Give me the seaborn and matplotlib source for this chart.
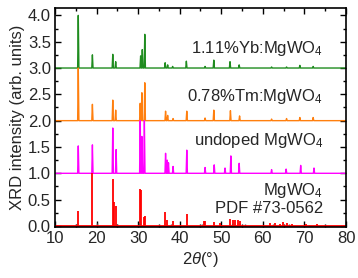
import numpy as np
import pandas as pd
import matplotlib
matplotlib.use("Agg")
import matplotlib.pyplot as plt
from matplotlib.ticker import MultipleLocator
import seaborn as sns

# ---- data ----
yb_pos = [15.6, 19.0, 23.9, 24.6, 30.6, 31.0, 31.6, 36.5, 37.1, 38.3, 41.6, 46.1, 48.2, 52.1, 54.3, 62.1, 65.7, 68.9, 72.1]
yb_h   = [1.00, 0.25, 0.26, 0.12, 0.23, 0.35, 0.64, 0.10, 0.06, 0.03, 0.13, 0.03, 0.15, 0.12, 0.06, 0.02, 0.02, 0.05, 0.03]

tm_pos = [15.6, 19.0, 23.9, 24.6, 30.5, 30.9, 31.6, 36.6, 37.1, 38.4, 41.7, 46.1, 48.2, 52.2, 54.4, 62.1, 65.7, 68.9, 72.1]
tm_h   = [1.00, 0.31, 0.39, 0.20, 0.33, 0.53, 0.72, 0.18, 0.10, 0.04, 0.18, 0.05, 0.20, 0.19, 0.09, 0.03, 0.04, 0.06, 0.06]

un_pos = [15.6, 19.0, 23.9, 24.7, 30.5, 30.9, 31.5, 36.6, 37.0, 37.3, 38.4, 41.7, 46.1, 48.3, 50.9, 52.3, 54.3, 62.1, 65.6, 69.1, 72.3]
un_h   = [0.52, 0.54, 0.86, 0.45, 1.00, 0.70, 1.00, 0.38, 0.25, 0.20, 0.13, 0.44, 0.11, 0.16, 0.10, 0.33, 0.19, 0.07, 0.08, 0.15, 0.10]

pdf_pos = [15.6, 19.0, 23.9, 24.1, 24.6, 30.5, 30.8, 31.3, 31.6, 36.5, 37.0, 38.3, 41.7, 45.9, 46.1, 48.3, 49.6,
           52.1, 52.9, 53.4, 54.0, 54.4, 61.6, 62.9, 64.1, 64.9, 65.9, 67.0, 70.3, 73.0]
pdf_h   = [0.28, 1.00, 0.89, 0.45, 0.37, 0.71, 0.69, 0.17, 0.18, 0.26, 0.12, 0.10, 0.22, 0.10, 0.09, 0.08, 0.06,
           0.14, 0.12, 0.11, 0.12, 0.10, 0.06, 0.05, 0.04, 0.07, 0.06, 0.03, 0.04, 0.03]

gray_pos = [15.0, 20.1, 25.0, 30.2, 38.0, 45.4, 52.6, 55.6, 62.5, 66.4, 71.0]
gray_h   = [0.04, 0.05, 0.04, 0.05, 0.03, 0.03, 0.03, 0.03, 0.03, 0.03, 0.02]

offsets = [3.0, 2.0, 1.0]
labels = ["1.11%Yb:MgWO$_4$", "0.78%Tm:MgWO$_4$", "undoped MgWO$_4$"]
colors = ["#1f8c1f", "#ff7f0e", "#ff00ff"]
pdf_color = "#ff0000"

# ---- build traces ----
def trace(pos, h, off, hw=0.15):
    xs, ys = [10.0], [off]
    for p, v in sorted(zip(pos, h)):
        xs += [p - hw, p, p + hw]
        ys += [off, off + v, off]
    xs.append(80.0); ys.append(off)
    return xs, ys

rows = []
for name, pos, h, off in zip(labels, [yb_pos, tm_pos, un_pos], [yb_h, tm_h, un_h], offsets):
    xs, ys = trace(pos, h, off)
    for i, (a, b) in enumerate(zip(xs, ys)):
        rows.append({"x": a, "y": b, "s": name, "i": i})
df = pd.DataFrame(rows)

sns.set_style("ticks")
plt.rcParams["font.family"] = ["Liberation Sans", "DejaVu Sans"]
plt.rcParams["mathtext.fontset"] = "custom"
plt.rcParams["mathtext.rm"] = "Liberation Sans"
plt.rcParams["mathtext.it"] = "Liberation Sans:italic"

FS = 12
fig = plt.figure(figsize=(3.58, 2.78), dpi=100)
ax = fig.add_axes([0.1536, 0.1835, 0.8129, 0.7877])

sns.lineplot(data=df, x="x", y="y", hue="s", palette=dict(zip(labels, colors)),
             sort=False, estimator=None, units="s", lw=1.0, legend=False, ax=ax)

ax.vlines(pdf_pos, 0, pdf_h, color=pdf_color, lw=1.3)
ax.vlines(gray_pos, 0, gray_h, color="#555555", lw=1.0)
ax.plot([10, 80], [0, 0], color=pdf_color, lw=1.3)

ax.set_xlim(10, 80)
ax.set_ylim(-0.02, 4.14)
ax.xaxis.set_major_locator(MultipleLocator(10))
ax.xaxis.set_minor_locator(MultipleLocator(5))
ax.yaxis.set_major_locator(MultipleLocator(0.5))
ax.yaxis.set_minor_locator(MultipleLocator(0.25))
ax.yaxis.set_major_formatter(matplotlib.ticker.FormatStrFormatter("%.1f"))
ax.tick_params(which="both", direction="in", top=True, right=True, labelsize=FS, width=1.0, color="black")
ax.tick_params(which="major", length=4, pad=3)
ax.tick_params(which="minor", length=2.5)
for s in ax.spines.values():
    s.set_linewidth(1.2)
    s.set_color("black")

ax.set_xlabel(r"2$\it{\theta}$(°)", fontsize=FS, labelpad=3)
ax.set_ylabel("XRD intensity (arb. units)", fontsize=FS, labelpad=2)

tx = 74.5
ax.text(tx, 3.38, labels[0], ha="right", va="center", fontsize=FS)
ax.text(tx, 2.45, labels[1], ha="right", va="center", fontsize=FS)
ax.text(tx, 1.62, labels[2], ha="right", va="center", fontsize=FS)
ax.text(tx, 0.67, "MgWO$_4$", ha="right", va="center", fontsize=FS)
ax.text(tx, 0.33, "PDF #73-0562", ha="right", va="center", fontsize=FS)

fig.savefig("out.png", dpi=100)
